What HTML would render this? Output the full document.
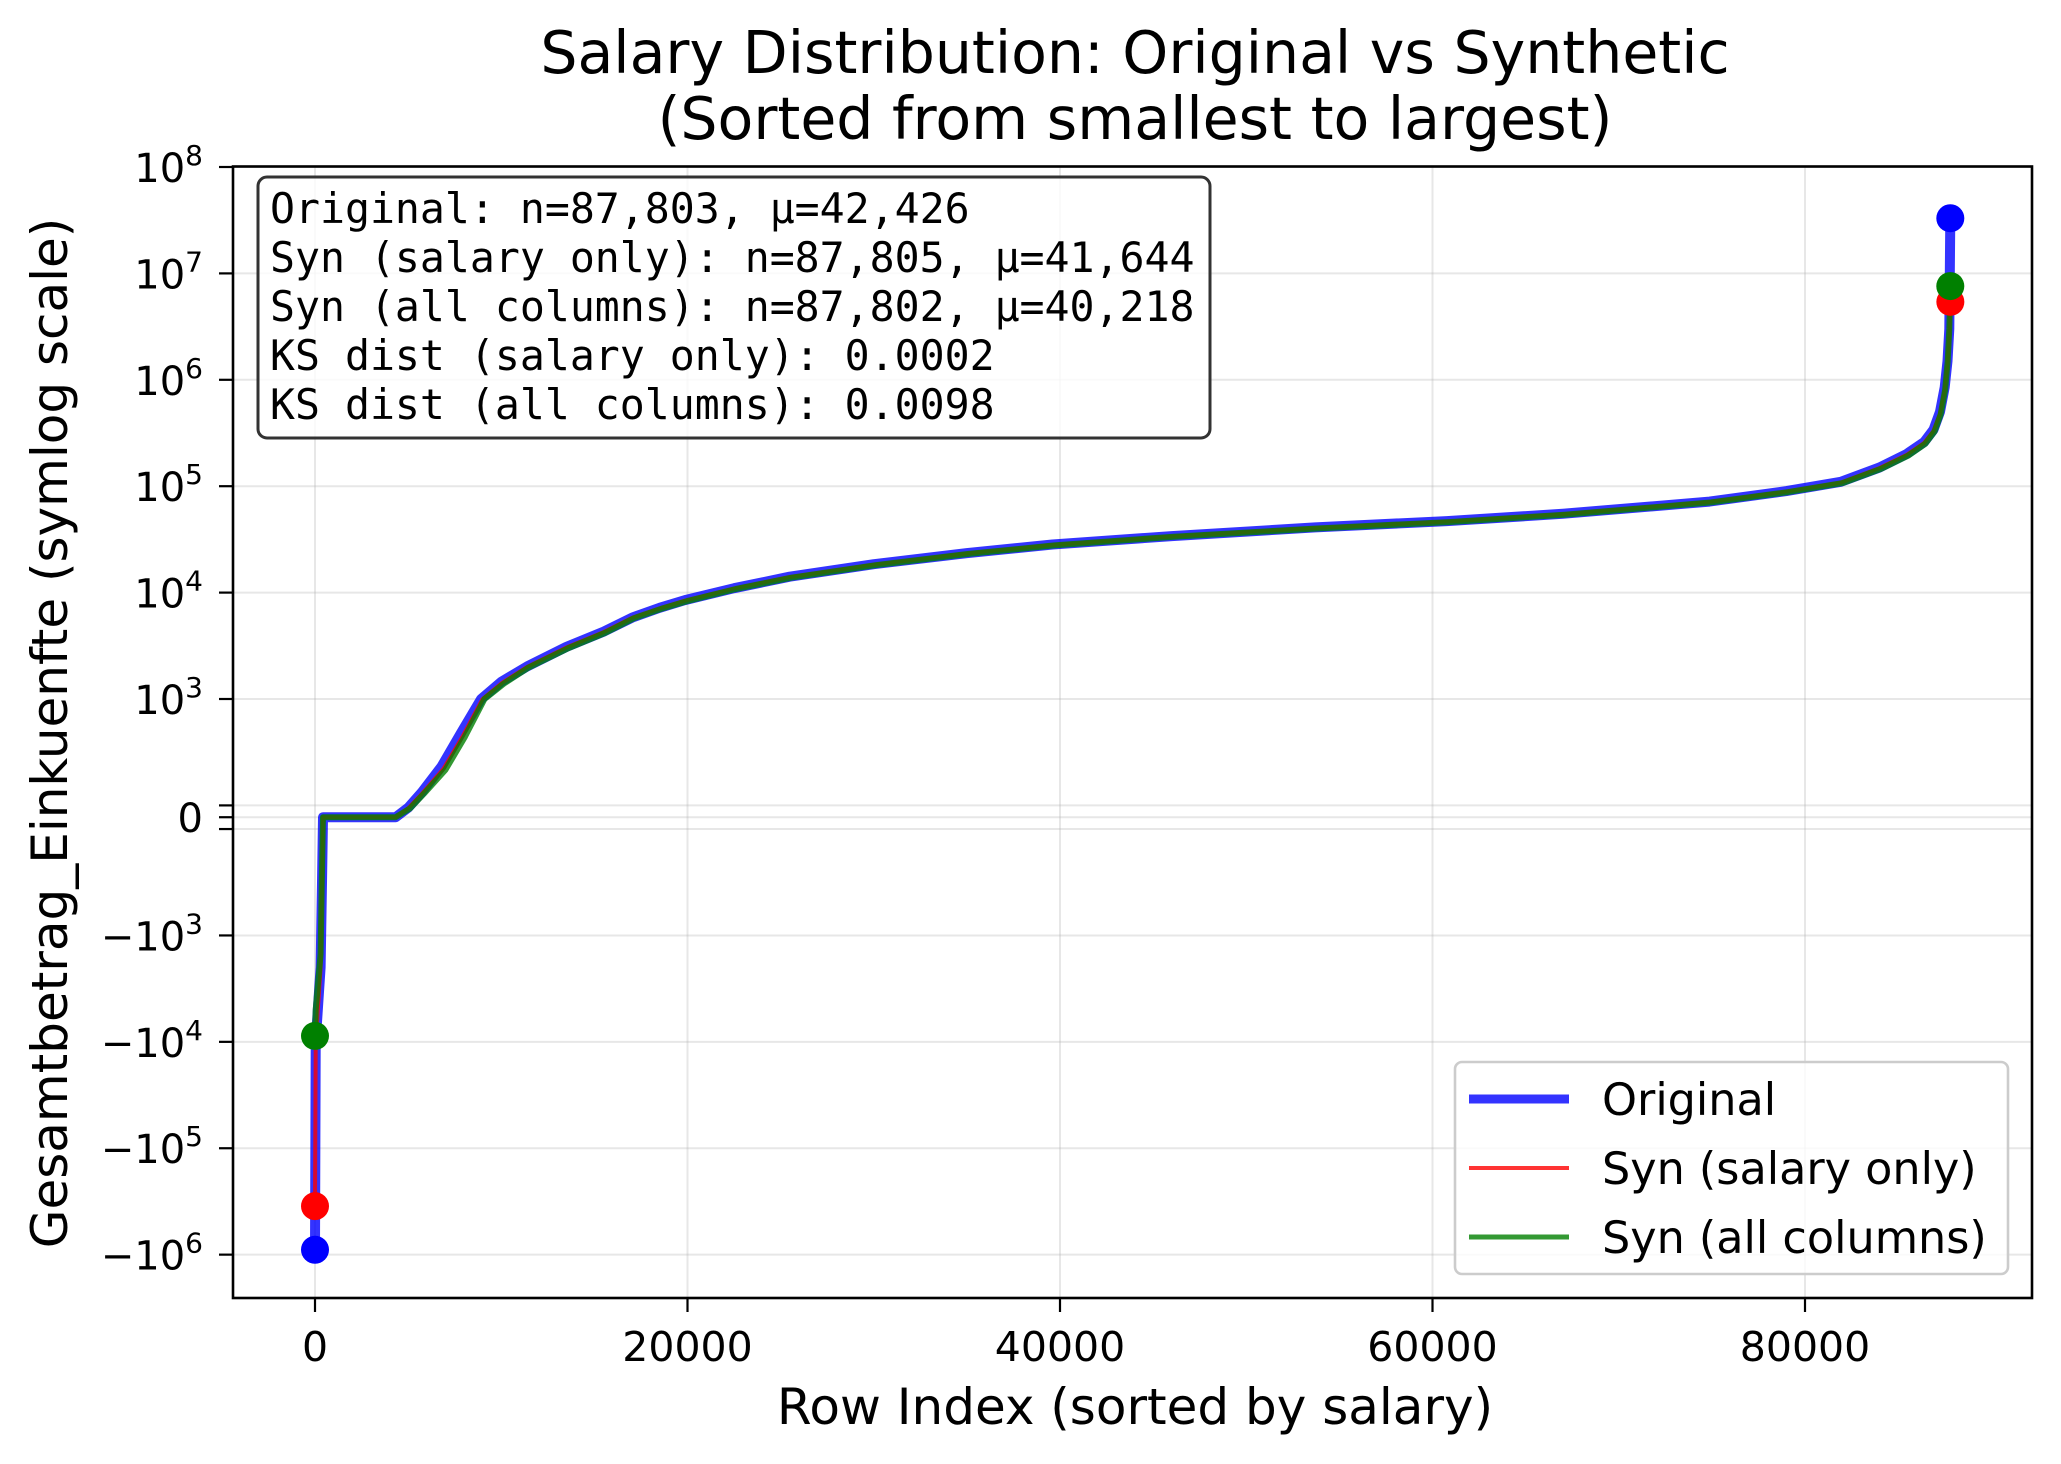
<!DOCTYPE html>
<html><head><meta charset="utf-8"><style>
html,body{margin:0;padding:0;background:#fff;}
svg{display:block;font-family:"DejaVu Sans","Liberation Sans",sans-serif;}
.mono{font-family:"DejaVu Sans Mono","Liberation Mono",monospace;}
</style></head><body>
<svg id="chart" width="2061" height="1464" viewBox="0 0 2061 1464" xmlns="http://www.w3.org/2000/svg">
<rect x="0" y="0" width="2061" height="1464" fill="#fff"/>
<text x="1135" y="73" font-size="58.5" text-anchor="middle">Salary Distribution: Original vs Synthetic</text>
<text x="1135" y="139" font-size="58.5" text-anchor="middle">(Sorted from smallest to largest)</text>
<g id="grid"></g>
<g id="series"></g>
<rect x="233" y="166.5" width="1799" height="1131.5" fill="none" stroke="#000" stroke-width="2.6"/>
<g id="axes"></g>
<text x="1135" y="1424" font-size="50" text-anchor="middle">Row Index (sorted by salary)</text>
<text transform="translate(67,733) rotate(-90)" font-size="50" text-anchor="middle">Gesamtbetrag_Einkuenfte (symlog scale)</text>
<g>
<rect x="258" y="177" width="952" height="261" rx="9" fill="#fff" fill-opacity="0.8" stroke="#333" stroke-width="3"/>
<text class="mono" font-size="41.5" x="270" y="223">Original: n=87,803, μ=42,426</text>
<text class="mono" font-size="41.5" x="270" y="272">Syn (salary only): n=87,805, μ=41,644</text>
<text class="mono" font-size="41.5" x="270" y="321">Syn (all columns): n=87,802, μ=40,218</text>
<text class="mono" font-size="41.5" x="270" y="370">KS dist (salary only): 0.0002</text>
<text class="mono" font-size="41.5" x="270" y="419">KS dist (all columns): 0.0098</text>
</g>
<g>
<rect x="1455" y="1062" width="553" height="212" rx="7" fill="#fff" fill-opacity="0.8" stroke="#ccc" stroke-width="2.6"/>
<line x1="1469" y1="1099" x2="1569" y2="1099" stroke="rgb(51,51,255)" stroke-width="9"/>
<text x="1602" y="1115" font-size="44.5">Original</text>
<line x1="1469" y1="1168" x2="1569" y2="1168" stroke="rgb(255,51,51)" stroke-width="4"/>
<text x="1602" y="1184" font-size="44.5">Syn (salary only)</text>
<line x1="1469" y1="1237" x2="1569" y2="1237" stroke="rgb(51,153,51)" stroke-width="5"/>
<text x="1602" y="1253" font-size="44.5">Syn (all columns)</text>
</g>
</svg>
<script>
const xTicks = [0, 20000, 40000, 60000, 80000];
const yTickExp = [8, 7, 6, 5, 4, 3];
const yNegExp = [3, 4, 5, 6];
const origIdx = [0, 40, 300, 380, 430, 4330, 5000, 5750, 6800, 7850, 8920, 10000, 11380, 13500, 15500, 17030, 18500, 19860, 22500, 25480, 30000, 35000, 39600, 46000, 53700, 60770, 67000, 74870, 79000, 81920, 84000, 85440, 86400, 86900, 87250, 87500, 87650, 87750, 87802];
const origVal = [-900000, -10000, -2000, -500, 0, 0, 80, 214, 430, 716, 1000, 1450, 2020, 3090, 4300, 5820, 7200, 8500, 11000, 14100, 18500, 23500, 28300, 34000, 41000, 47000, 55000, 71600, 90000, 110000, 150000, 200000, 260000, 340000, 500000, 850000, 1500000, 3000000, 33000000];
const synSalIdx = [0, 40, 300, 380, 430, 4330, 5000, 5750, 6900, 7950, 9000, 10050, 11380, 13500, 15500, 17030, 18500, 19860, 22500, 25480, 30000, 35000, 39600, 46000, 53700, 60770, 67000, 74870, 79000, 81920, 84000, 85440, 86400, 86900, 87250, 87500, 87650, 87750, 87804];
const synSalVal = [-350000, -10000, -2000, -500, 0, 0, 75, 200, 410, 690, 1000, 1420, 2000, 3050, 4250, 5800, 7100, 8400, 10900, 14000, 18300, 23300, 28000, 33700, 40500, 46500, 54500, 71000, 89000, 108000, 148000, 196000, 255000, 330000, 480000, 800000, 1400000, 2700000, 5400000];
const synAllIdx = [0, 40, 300, 380, 430, 4330, 5100, 5850, 7000, 8050, 9100, 10150, 11480, 13600, 15600, 17130, 18600, 19960, 22600, 25580, 30100, 35100, 39700, 46100, 53800, 60870, 67100, 74970, 79100, 82020, 84100, 85540, 86450, 86950, 87280, 87520, 87660, 87750, 87801];
const synAllVal = [-8800, -5000, -1500, -400, 0, 0, 75, 200, 400, 680, 1000, 1400, 1980, 3000, 4200, 5750, 7050, 8300, 10800, 13800, 18100, 23100, 27800, 33500, 40000, 46000, 54000, 70500, 88000, 107000, 146000, 194000, 250000, 325000, 470000, 800000, 1500000, 3000000, 7600000];

const NS = 'http://www.w3.org/2000/svg';
const X0 = 315, XPER = 372.5 / 20000;
const YTOP = 166.5, YBOT = 1298, XL = 233, XR = 2032;
const D = 106.4, LT = 1000, LS = 1 / (1 - 0.1);
const Y3 = 167 + 5 * D, Y0 = Y3 + LS * D;
function xs(i) { return X0 + i * XPER; }
function tr(v) {
  const a = Math.abs(v);
  if (a <= LT) return v / LT * LS;
  return Math.sign(v) * (LS + Math.log10(a / LT));
}
function ys(v) { return Y0 - tr(v) * D; }
function mk(tag, attrs, parent) {
  const e = document.createElementNS(NS, tag);
  for (const k in attrs) e.setAttribute(k, attrs[k]);
  parent.appendChild(e);
  return e;
}
const grid = document.getElementById('grid');
const axes = document.getElementById('axes');
const series = document.getElementById('series');

xTicks.forEach(t => {
  const x = xs(t);
  const g = mk('line', {x1: x, x2: x, y1: YTOP, y2: YBOT, stroke: '#b0b0b0', 'stroke-opacity': 0.3, 'stroke-width': 2}, grid);
  
  
  const tk = mk('line', {x1: x, x2: x, y1: YBOT, y2: YBOT + 14, stroke: '#000', 'stroke-width': 2.2}, axes);
  
  
  const lb = mk('text', {x: x, y: YBOT + 63, 'font-size': 41, 'text-anchor': 'middle'}, axes);
  lb.textContent = String(t);
  
  
});

function yTick(v, label, exp) {
  const y = ys(v);
  const g = mk('line', {x1: XL, x2: XR, y1: y, y2: y, stroke: '#b0b0b0', 'stroke-opacity': 0.3, 'stroke-width': 2}, grid);
  
  
  const tk = mk('line', {x1: XL - 14, x2: XL, y1: y, y2: y, stroke: '#000', 'stroke-width': 2.2}, axes);
  
  
  if (label === null) return;
  const lb = mk('text', {x: XL - 30, y: y + 15, 'font-size': 40, 'text-anchor': 'end'}, axes);
  
  
  if (exp === null) { lb.textContent = label; return; }
  const t1 = mk('tspan', {}, lb); t1.textContent = label;
  const t2 = mk('tspan', {'font-size': 28, dy: -17}, lb); t2.textContent = String(exp);
}
yTickExp.forEach(e => yTick(Math.pow(10, e), '10', e));
yTick(100, null, null);
yTick(0, '0', null);
yTick(-100, null, null);
yNegExp.forEach(e => yTick(-Math.pow(10, e), '\u221210', e));

function drawSeries(idx, val, color, width, name) {
  const d = idx.map((i, k) => (k ? 'L' : 'M') + xs(i).toFixed(1) + ',' + ys(val[k]).toFixed(1)).join(' ');
  const p = mk('path', {d: d, fill: 'none', stroke: color, 'stroke-opacity': 0.8, 'stroke-width': width, 'stroke-linejoin': 'round'}, series);
  
  
}
function drawEnd(idx, val, color, name) {
  [0, idx.length - 1].forEach(k => {
    const c = mk('circle', {cx: xs(idx[k]), cy: ys(val[k]), r: 14, fill: color}, series);
    
    
  });
}
drawSeries(origIdx, origVal, 'rgb(0,0,255)', 10, 'original');
drawSeries(synSalIdx, synSalVal, 'rgb(255,0,0)', 4, 'syn-salary');
drawSeries(synAllIdx, synAllVal, 'rgb(0,128,0)', 6, 'syn-all');
drawEnd(origIdx, origVal, '#0000ff', 'original');
drawEnd(synSalIdx, synSalVal, '#ff0000', 'syn-salary');
drawEnd(synAllIdx, synAllVal, '#008000', 'syn-all');
</script>
</body></html>
